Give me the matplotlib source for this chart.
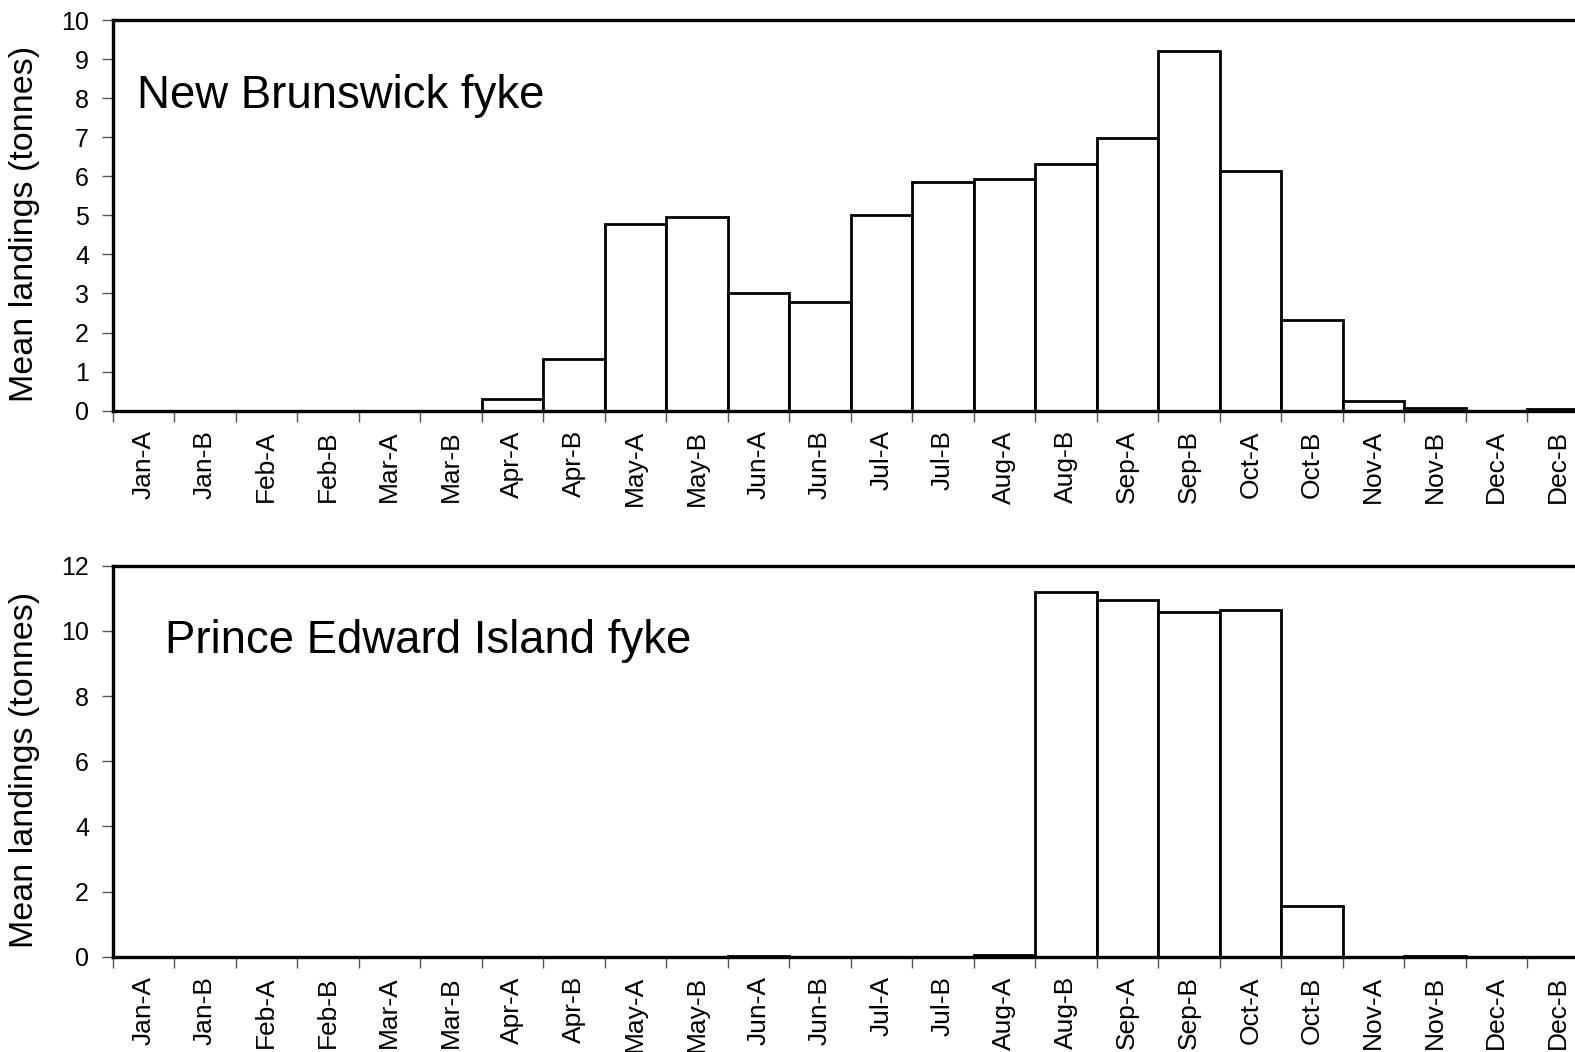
import matplotlib.pyplot as plt
import numpy as np

plt.rcParams['font.family'] = ['Liberation Sans', 'DejaVu Sans']

# Категории: половины месяцев
periods = ["Jan-A", "Jan-B", "Feb-A", "Feb-B", "Mar-A", "Mar-B",
           "Apr-A", "Apr-B", "May-A", "May-B", "Jun-A", "Jun-B",
           "Jul-A", "Jul-B", "Aug-A", "Aug-B", "Sep-A", "Sep-B",
           "Oct-A", "Oct-B", "Nov-A", "Nov-B", "Dec-A", "Dec-B"]

# Средние выгрузки (тонны)
nb_fyke = [0, 0, 0, 0, 0, 0,
           0.30, 1.32, 4.79, 4.95, 3.02, 2.78,
           5.00, 5.85, 5.93, 6.31, 6.98, 9.21,
           6.14, 2.33, 0.24, 0.06, 0, 0.05]
pei_fyke = [0, 0, 0, 0, 0, 0,
            0, 0, 0, 0, 0.03, 0,
            0, 0, 0.05, 11.2, 10.95, 10.59,
            10.64, 1.57, 0, 0.03, 0, 0]

W, H = 1575, 1052
fig = plt.figure(figsize=(W / 100, H / 100), dpi=100)

left_px = 112.5
cat_px = 61.5
left = left_px / W
width = (cat_px * 24) / W


def make_panel(top_px, bottom_px, values, ymax, ystep, title, title_px, baseline_px):
    ax = fig.add_axes([left, 1 - bottom_px / H, width, (bottom_px - top_px) / H])
    x = np.arange(len(periods))
    ax.bar(x, values, width=1, align='edge', color='white',
           edgecolor='black', linewidth=2, zorder=2)
    ax.set_xlim(0, len(periods))
    ax.set_ylim(0, ymax)
    ax.set_yticks(np.arange(0, ymax + 0.01, ystep))
    ax.set_xticks(np.arange(0, len(periods) + 1))
    ax.set_xticklabels([])
    ax.set_xticks(x + 0.5, minor=True)
    ax.set_xticklabels(periods, minor=True, rotation=90, fontsize=19)
    ax.tick_params(axis='x', which='minor', length=0, pad=14)
    ax.tick_params(axis='x', which='major', length=8, width=1, color='#555555')
    ax.tick_params(axis='y', length=8, width=1, color='#555555', labelsize=18, pad=9)
    for s in ['top', 'bottom', 'left', 'right']:
        ax.spines[s].set_linewidth(2.4)
        ax.spines[s].set_zorder(3)
    ax.set_ylabel("Mean landings (tonnes)", fontsize=24.5)
    ax.yaxis.set_label_coords((40 - left_px) / (cat_px * 24), 0.478)
    ax.text((title_px - left_px) / (cat_px * 24),
            (bottom_px - baseline_px) / (bottom_px - top_px),
            title, transform=ax.transAxes, fontsize=32.8,
            ha='left', va='baseline')
    return ax


make_panel(20, 410.7, nb_fyke, 10, 1, "New Brunswick fyke", 137, 108.5)
make_panel(565.7, 956.7, pei_fyke, 12, 2, "Prince Edward Island fyke", 165, 653)

fig.savefig("out.png", dpi=100, facecolor='white')
